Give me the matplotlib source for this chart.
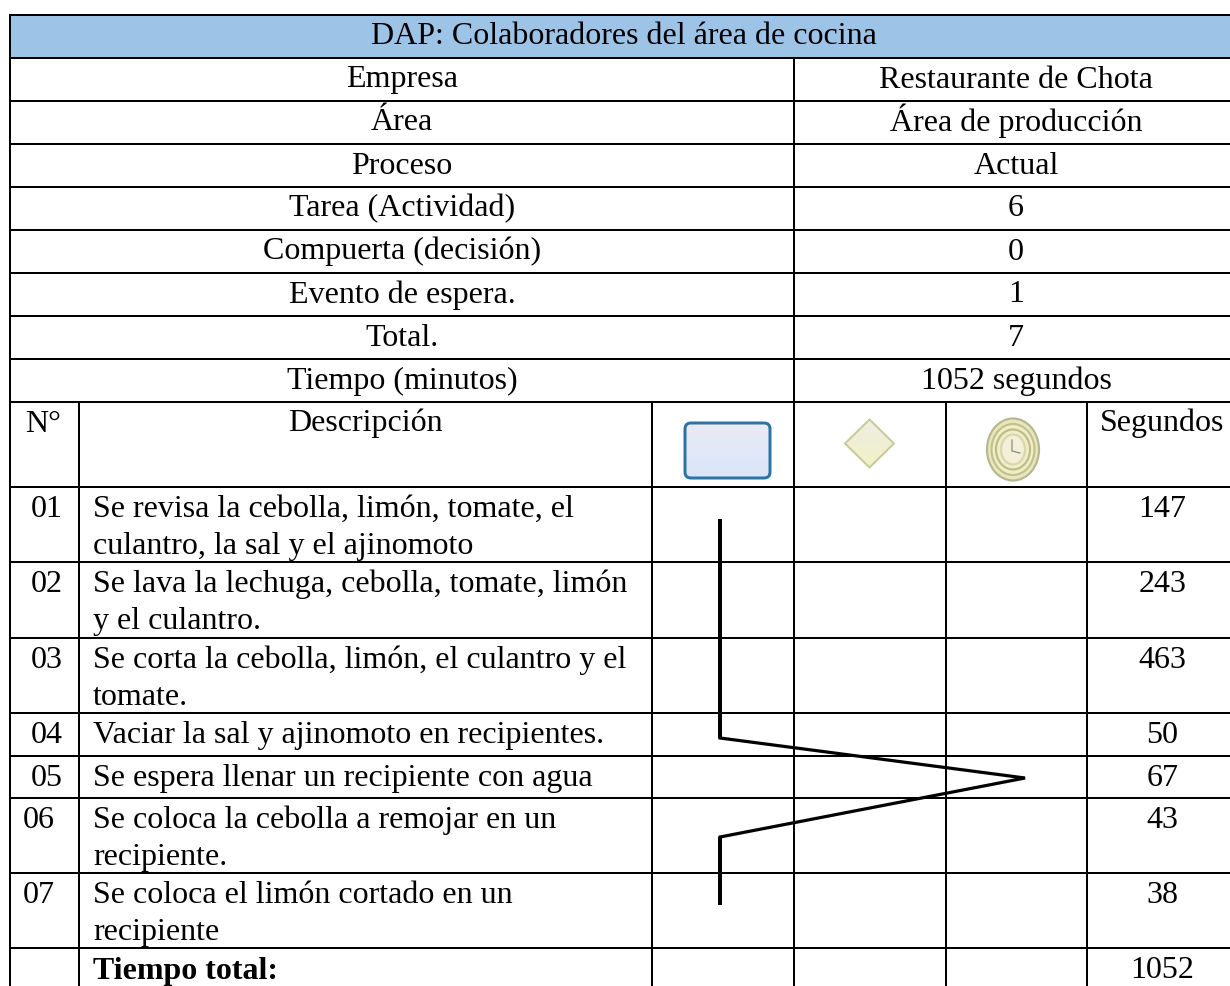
import numpy as np
import matplotlib
matplotlib.use("Agg")
import matplotlib.pyplot as plt
from matplotlib.patches import FancyBboxPatch, Polygon, Ellipse

plt.rcParams["font.family"] = ["Liberation Serif", "DejaVu Serif"]

title = "DAP: Colaboradores del área de cocina"
info_labels = ["Empresa", "Área", "Proceso", "Tarea (Actividad)", "Compuerta (decisión)",
               "Evento de espera.", "Total.", "Tiempo (minutos)"]
info_values = ["Restaurante de Chota", "Área de producción", "Actual", "6", "0", "1", "7",
               "1052 segundos"]
numbers = ["01", "02", "03", "04", "05", "06", "07"]
descriptions = ["Se revisa la cebolla, limón, tomate, el\nculantro, la sal y el ajinomoto",
                "Se lava la lechuga, cebolla, tomate, limón\ny el culantro.",
                "Se corta la cebolla, limón, el culantro y el\ntomate.",
                "Vaciar la sal y ajinomoto en recipientes.",
                "Se espera llenar un recipiente con agua",
                "Se coloca la cebolla a remojar en un\nrecipiente.",
                "Se coloca el limón cortado en un\nrecipiente"]
seconds = [147, 243, 463, 50, 67, 43, 38]
total_seconds = 1052

# grid lines, in pixels of the picture (right and bottom edges fall outside it)
col_x = [10, 79, 652, 794, 946, 1087, 1238]
head_y = [15, 58, 101, 144, 187, 230, 273, 316, 359, 402]
row_y = [487, 562, 638, 713, 756, 798, 873, 948, 992]
number_x = [47, 47, 47, 47, 47, 39, 39]
flow_x = [720, 720, 1025, 720, 720]
flow_y = [519, 738, 778, 837, 905]

FS = 23
PX = 72 / 100
LW = 2.0 * PX
LINE_PITCH = 37

fig = plt.figure(figsize=(12.3, 9.86), dpi=100)
ax = fig.add_axes([0, 0, 1, 1])
ax.axis("off")

ax.fill_between([col_x[0], col_x[-1]], head_y[0], head_y[1], color="#9dc3e6", lw=0, zorder=0)


def hline(y):
    ax.plot([col_x[0], col_x[-1]], [y, y], color="black", lw=LW, solid_capstyle="projecting", zorder=2)


def vline(x, y0, y1):
    ax.plot([x, x], [y0, y1], color="black", lw=LW, solid_capstyle="projecting", zorder=2)


def label(x, y, s, ha="center", **kw):
    ax.text(x, y, s, fontsize=FS, ha=ha, va="baseline", **kw)


for y in head_y + row_y:
    hline(y)
vline(col_x[0], head_y[0], row_y[-1])
vline(col_x[3], head_y[1], head_y[-1])
for x in col_x[1:-1]:
    vline(x, head_y[-1], row_y[-1])

mid_left = (col_x[0] + col_x[3]) / 2
mid_right = (col_x[3] + col_x[-1]) / 2
seg_x = (col_x[5] + col_x[-1]) / 2
label((col_x[0] + col_x[-1]) / 2, head_y[0] + 29.5, title)
for i, (lab, val) in enumerate(zip(info_labels, info_values)):
    y = head_y[i + 1] + 29.5
    label(mid_left, y, lab)
    label(mid_right, y, val)

# header row of the steps
label(43, 431.5, "N°")
label(365, 431.5, "Descripción")
label(seg_x, 431.5, "Segundos")

# task icon
grad = np.linspace(0, 1, 64).reshape(-1, 1, 1)
c0, c1 = np.array([0.92, 0.92, 0.95]), np.array([0.85, 0.90, 0.98])
img = ax.imshow(c0 + (c1 - c0) * grad, extent=(683, 772, 480, 421), aspect="auto", zorder=1)
box = FancyBboxPatch((685, 423), 85, 55, boxstyle="round,pad=0,rounding_size=6", fc="none",
                     ec="#2c74a8", lw=3 * PX, zorder=3)
ax.add_patch(box)
img.set_clip_path(box)

# gateway icon
diamond = Polygon([(869.5, 419.5), (894, 443.5), (869.5, 467.5), (845, 443.5)], closed=True,
                  fc="none", ec="#c9c99c", lw=2 * PX, zorder=3)
ax.add_patch(diamond)
c0, c1 = np.array([0.93, 0.93, 0.90]), np.array([0.95, 0.95, 0.77])
img2 = ax.imshow(c0 + (c1 - c0) * grad, extent=(844, 895, 469, 418), aspect="auto", zorder=1)
img2.set_clip_path(diamond)

# timer icon
for w, h, fc, ec in [(52, 62, "#e8e8bc", "#b8b78e"), (43, 51, "#efefc0", "#c2c094"),
                     (34, 40, "#efefc4", "#bdbb90"), (24, 30, "#f3f0da", "#d8d5b0")]:
    ax.add_patch(Ellipse((1013, 449.5), w, h, fc=fc, ec=ec, lw=2.2 * PX, zorder=3))
ax.plot([1012, 1012, 1020], [440, 451, 453], color="#8f8f78", lw=1.3 * PX, zorder=4)

for num, nx, top, desc, sec in zip(numbers, number_x, row_y, descriptions, seconds):
    y = top + 30
    label(nx, y, num)
    for j, line in enumerate(desc.split("\n")):
        label(93, y + j * LINE_PITCH, line, ha="left")
    label(seg_x, y, str(sec))

label(93, row_y[-2] + 31, "Tiempo total:", ha="left", fontweight="bold")
label(seg_x, row_y[-2] + 30, str(total_seconds))

ax.plot(flow_x, flow_y, color="black", lw=3.2 * PX, solid_joinstyle="miter", solid_capstyle="butt", zorder=4)
ax.plot(flow_x[:2], flow_y[:2], color="black", lw=4 * PX, solid_capstyle="butt", zorder=4)
ax.plot(flow_x[3:], flow_y[3:], color="black", lw=4 * PX, solid_capstyle="butt", zorder=4)

ax.set_xlim(0, 1230)
ax.set_ylim(986, 0)

fig.savefig("out.png", dpi=100)
